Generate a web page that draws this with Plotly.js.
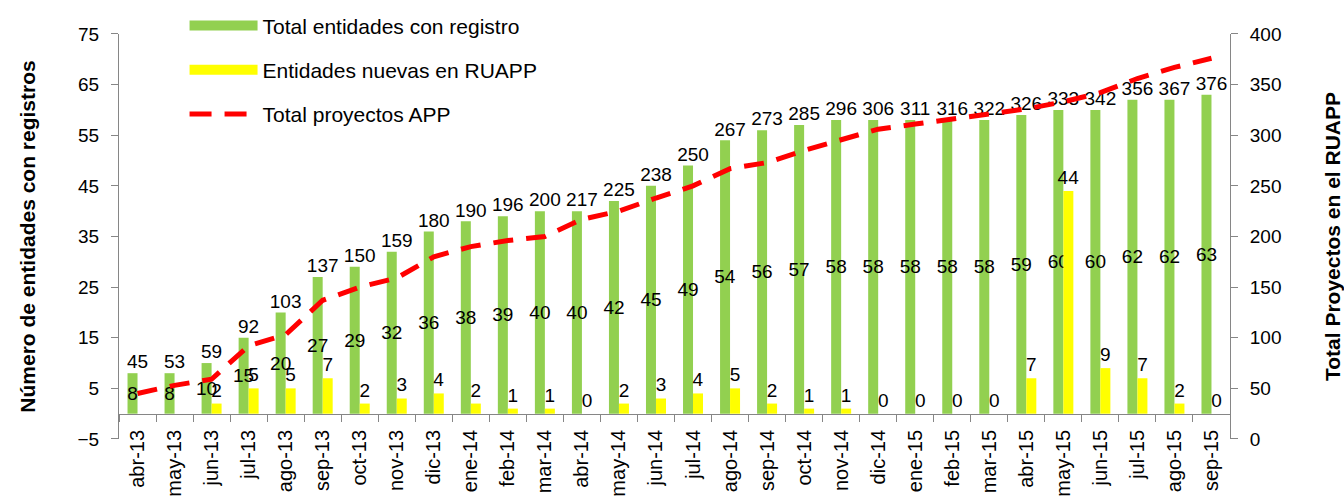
<!DOCTYPE html>
<html>
<head>
<meta charset="utf-8">
<script src="https://cdn.plot.ly/plotly-3.0.1.min.js"></script>
<style>html,body{margin:0;padding:0;background:#fff;}#chart{width:1344px;height:497px;}</style>
</head>
<body>
<div id="chart"></div>
<script>
const months = ["abr-13","may-13","jun-13","jul-13","ago-13","sep-13","oct-13","nov-13","dic-13",
  "ene-14","feb-14","mar-14","abr-14","may-14","jun-14","jul-14","ago-14","sep-14","oct-14","nov-14","dic-14",
  "ene-15","feb-15","mar-15","abr-15","may-15","jun-15","jul-15","ago-15","sep-15"];
const totalEntidades = [8,8,10,15,20,27,29,32,36,38,39,40,40,42,45,49,54,56,57,58,58,58,58,58,59,60,60,62,62,63];
const entidadesNuevas = [null,null,2,5,5,7,2,3,4,2,1,1,0,2,3,4,5,2,1,1,0,0,0,0,7,44,9,7,2,0];
const totalProyectos = [45,53,59,92,103,137,150,159,180,190,196,200,217,225,238,250,267,273,285,296,306,311,316,322,326,333,342,356,367,376];

const FONT = "Liberation Sans, Arial, sans-serif";
const GREEN = "#92D050", YELLOW = "#FFFF00", RED = "#FF0000", AXIS = "#868686";
const nCat = months.length;

const traces = [
  {type:"bar", name:"Total entidades con registro", x:months, y:totalEntidades,
   marker:{color:GREEN}, showlegend:false,
   text:totalEntidades.map(String), textposition:"inside", insidetextanchor:"middle",
   textangle:0, constraintext:"none", insidetextfont:{color:"#000", size:19, family:FONT},
   hoverinfo:"x+y"},
  {type:"bar", name:"Entidades nuevas en RUAPP", x:months, y:entidadesNuevas,
   marker:{color:YELLOW}, showlegend:false,
   text:entidadesNuevas.map(v => v === null ? "" : String(v)), textposition:"outside",
   textangle:0, constraintext:"none", outsidetextfont:{color:"#000", size:19, family:FONT},
   cliponaxis:false, hoverinfo:"x+y"},
  {type:"scatter", mode:"lines", name:"Total proyectos APP", x:months, y:totalProyectos,
   yaxis:"y2", line:{color:RED, width:5, dash:"20px,13px"}, showlegend:false},
  {type:"scatter", mode:"text", x:months, y:totalEntidades, text:totalProyectos.map(String),
   textposition:"top center", textfont:{size:19, color:"#000", family:FONT},
   showlegend:false, hoverinfo:"skip", cliponaxis:false},
  {type:"scatter", mode:"lines", x:[null], y:[null], xaxis:"x2", yaxis:"y", showlegend:false, hoverinfo:"skip"},
  {type:"scatter", mode:"lines", x:[null], y:[null], xaxis:"x2", name:"Total entidades con registro",
   line:{color:GREEN, width:11}, legendgroup:"a"},
  {type:"scatter", mode:"lines", x:[null], y:[null], xaxis:"x2", name:"Entidades nuevas en RUAPP",
   line:{color:YELLOW, width:11}, legendgroup:"b"},
  {type:"scatter", mode:"lines", x:[null], y:[null], xaxis:"x2", name:"Total proyectos APP",
   line:{color:RED, width:5, dash:"22px,13px"}, legendgroup:"c"}
];

const layout = {
  width:1344, height:497,
  margin:{l:119, r:114, t:0, b:58},
  paper_bgcolor:"#fff", plot_bgcolor:"#fff",
  font:{family:FONT, size:19, color:"#000"},
  barmode:"group", bargap:0.46, bargroupgap:0,
  showlegend:true,
  legend:{x:0.059, y:0.988, xanchor:"left", yanchor:"top", bgcolor:"rgba(0,0,0,0)",
          font:{size:21, family:FONT, color:"#000"}, itemwidth:68, tracegroupgap:14,
          traceorder:"grouped"},
  xaxis:{type:"category", range:[-0.5, nCat-0.5], showline:false, ticks:"", tickangle:-90,
         showgrid:false, zeroline:false, tickfont:{size:20}, anchor:"free", position:0.032},
  xaxis2:{overlaying:"x", anchor:"free", position:0.0577, range:[-0.5, nCat-0.5],
          tick0:-0.5, dtick:1, ticks:"outside", ticklen:7, tickcolor:AXIS,
          showline:true, linecolor:AXIS, linewidth:1, showticklabels:false,
          showgrid:false, zeroline:false},
  yaxis:{domain:[0, 0.9226], range:[-5,75], tick0:-5, dtick:10, showline:true, linecolor:AXIS, ticks:"outside",
         ticklen:7, tickcolor:AXIS, showgrid:false, zeroline:false, ticklabelstandoff:8,
         title:{text:"<b>Número de entidades con registros</b>", font:{size:21}, standoff:36}},
  yaxis2:{overlaying:"y", side:"right", range:[0,400], dtick:50, showline:true, linecolor:AXIS,
          ticks:"outside", ticklen:7, tickcolor:AXIS, showgrid:false, zeroline:false,
          ticklabelstandoff:8,
          title:{text:"<b>Total Proyectos en el RUAPP</b>", font:{size:21}, standoff:45}}
};

Plotly.newPlot("chart", traces, layout, {displayModeBar:false, staticPlot:true});
</script>
</body>
</html>
